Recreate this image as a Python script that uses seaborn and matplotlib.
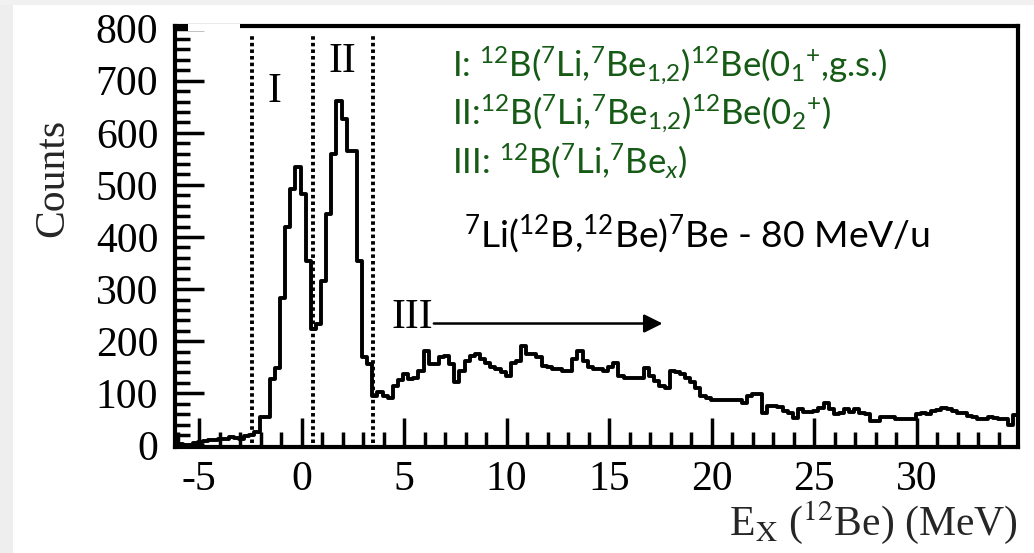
import numpy as np
import pandas as pd
import matplotlib
matplotlib.use("Agg")
import matplotlib.pyplot as plt
from matplotlib.patches import Rectangle
import seaborn as sns

# ---- data: 12Be excitation-energy spectrum, 0.25 MeV bins from -6.3 MeV ----
bin_start = -6.3
bin_width = 0.25
counts = [
    3, 2, 0, 0, 5, 6, 9, 10, 10, 13, 12, 16, 14, 12, 18, 20,
    25, 54, 54, 127, 148, 283, 420, 492, 535, 483, 354, 223, 233, 315,
    444, 560, 662, 627, 565, 565, 354, 169, 156, 94, 102, 94,
    92, 115, 125, 137, 127, 130, 143, 181, 156, 156,
    169, 172, 156, 121, 143, 162, 172, 175, 165, 158,
    150, 146, 140, 133, 159, 162, 191, 175, 175, 169,
    153, 150, 146, 146, 143, 143, 165, 181, 162, 150,
    146, 146, 143, 150, 159, 133, 130, 130, 130, 130,
    149, 133, 124, 115, 111, 143, 140, 137, 130, 121,
    110, 95, 92, 88, 88, 88, 88, 88, 88, 82,
    95, 98, 98, 63, 76, 76, 73, 66, 62, 53,
    69, 64, 64, 66, 72, 81, 69, 60, 62, 69,
    64, 69, 63, 60, 47, 47, 55, 55, 54, 51,
    51, 51, 51, 60, 63, 60, 66, 68, 72, 69,
    66, 63, 63, 57, 55, 50, 50, 55, 53, 51,
    51, 40, 58,
]

# gate boundaries separating regions I, II and III (MeV)
gate_edges = [-2.44, 0.54, 3.46]
region_names = ["I", "II", "III"]
region_label_pos = [(-1.32, 678), (2.0, 737), (5.41, 245)]
region3_arrow = (6.45, 17.6, 234)

x_ticks = [-5, 0, 5, 10, 15, 20, 25, 30]
y_ticks = [0, 100, 200, 300, 400, 500, 600, 700, 800]

gate_legend = [
    r"I: $^{12}$B($^{7}$Li,$^{7}$Be$_{1{,}2}$)$^{12}$Be(0$_{1}$$^{+}$,g.s.)",
    r"II:$^{12}$B($^{7}$Li,$^{7}$Be$_{1{,}2}$)$^{12}$Be(0$_{2}$$^{+}$)",
    r"III: $^{12}$B($^{7}$Li,$^{7}$Be$_{x}$)",
]
reaction_label = r"$^{7}$Li($^{12}$B,$^{12}$Be)$^{7}$Be - 80 MeV/u"
x_title = r"E$_{\mathrm{X}}$ ($^{12}$Be) (MeV)"
y_title = "Counts"

# ---- style ----
sns.set_style("ticks")
plt.rcParams.update({
    "font.family": ["Liberation Serif", "DejaVu Serif"],
    "mathtext.fontset": "custom",
    "mathtext.rm": "Lato",
    "mathtext.it": "Lato:italic",
    "mathtext.bf": "Lato:bold",
    "axes.unicode_minus": False,
    "axes.linewidth": 3.0,
    "axes.edgecolor": "black",
})

GREEN = "#155a15"
SERIF = 30

edges = bin_start + bin_width * np.arange(len(counts) + 1)
centers = edges[:-1] + bin_width / 2
spectrum = pd.DataFrame({"ex": centers, "counts": counts})

fig = plt.figure(figsize=(10.34, 5.53), dpi=100)
fig.patch.set_facecolor("white")
ax = fig.add_axes([175 / 1034, 1 - 447 / 553, 843 / 1034, 421 / 553])

sns.histplot(data=spectrum, x="ex", weights="counts", bins=edges.tolist(),
             element="step", fill=False, color="black", linewidth=2.8,
             ax=ax)

ax.set_xticks(x_ticks)
ax.set_yticks(y_ticks)
ax.set_xticks(np.arange(-6, 35, 1), minor=True)
ax.set_yticks(np.arange(0, 801, 20), minor=True)
ax.set_xlim(-6.17, 34.93)
ax.set_ylim(-3, 805)

ax.tick_params(which="both", direction="in", top=False, right=False,
               labelsize=SERIF, labelcolor="black")
ax.tick_params(which="major", length=21, width=2.5, color="black")
ax.tick_params(which="minor", length=10.5, width=2.5, color="black")
ax.tick_params(axis="x", which="major", pad=10)
ax.tick_params(axis="y", which="major", pad=12)
for lab in ax.get_xticklabels() + ax.get_yticklabels():
    lab.set_family("Liberation Serif")

# gate boundaries
for xg in gate_edges:
    ax.plot([xg, xg], [5, 785], color="black", lw=2.8,
            linestyle=(0, (0.9, 0.8)), zorder=3)

# region numerals
for name, (xr, yr) in zip(region_names, region_label_pos):
    ax.text(xr, yr, name, fontsize=SERIF, family="Liberation Serif",
            ha="center", va="center", color="black")
x0, x1, ya = region3_arrow
ax.annotate("", xy=(x1, ya), xytext=(x0, ya),
            arrowprops=dict(arrowstyle="-|>", color="black", lw=1.8,
                            mutation_scale=28, shrinkA=0, shrinkB=0))

# gate legend and reaction
for i, line in enumerate(gate_legend):
    ax.text(0.3286, [0.879, 0.765, 0.651][i], line, transform=ax.transAxes,
            fontsize=25, family="Lato", color=GREEN, ha="left",
            va="baseline", math_fontfamily="custom")
ax.text(0.343, 0.475, reaction_label, transform=ax.transAxes,
        fontsize=26.8, family="Lato", color="black", ha="left",
        va="baseline", math_fontfamily="custom")

# axis titles
ax.set_ylabel(y_title, fontsize=SERIF, family="Liberation Serif")
ax.yaxis.set_label_coords(-0.122, 0.639)
ax.set_xlabel(x_title, fontsize=SERIF, family="Liberation Serif",
              math_fontfamily="stix", ha="right", va="top")
ax.xaxis.set_label_coords(1.0, -0.125)

# page margins
fig.add_artist(Rectangle((0, 0), 13 / 1034, 1, transform=fig.transFigure,
                         facecolor="#eeeeee", edgecolor="none", zorder=0))
fig.add_artist(Rectangle((0, 1 - 5 / 553), 1, 5 / 553, transform=fig.transFigure,
                         facecolor="#f1f1f1", edgecolor="none", zorder=0))
fig.add_artist(Rectangle((188 / 1034, 1 - 31 / 553), 52 / 1034, 7 / 553,
                         transform=fig.transFigure, facecolor="white",
                         edgecolor="none", zorder=10))

fig.savefig("out.png", dpi=100, facecolor=fig.get_facecolor())
